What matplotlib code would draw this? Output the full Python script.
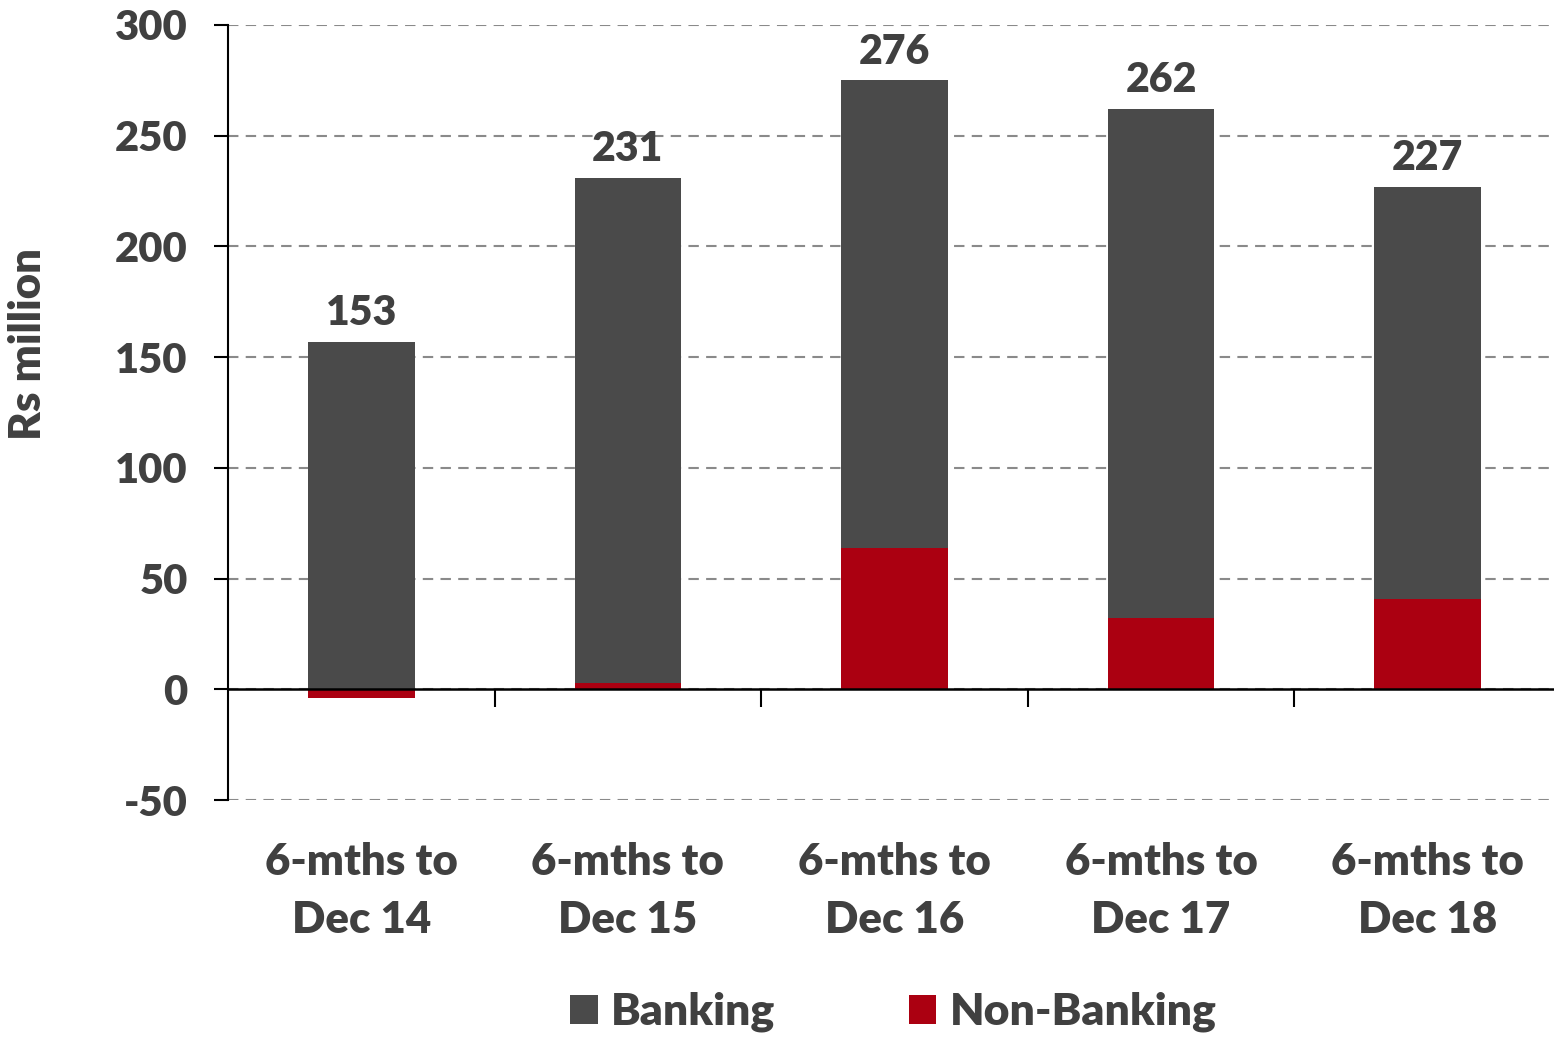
import matplotlib.pyplot as plt
import numpy as np

categories = ['6-mths to\nDec 14', '6-mths to\nDec 15', '6-mths to\nDec 16',
              '6-mths to\nDec 17', '6-mths to\nDec 18']
banking = [157, 228, 211, 230, 186]
non_banking = [-4, 3, 64, 32, 41]
totals = [153, 231, 276, 262, 227]
yticks = [-50, 0, 50, 100, 150, 200, 250, 300]

txt_color = '#404040'
wt = 'heavy'
plt.rcParams['font.family'] = ['Lato', 'DejaVu Sans']
plt.rcParams['font.weight'] = wt

fig = plt.figure(figsize=(15.54, 10.37), dpi=100)
ax = fig.add_axes([228 / 1554, 237 / 1037, 1333 / 1554, 775 / 1037])

x = np.arange(len(categories))
nb = np.array(non_banking)
bk = np.array(banking)
# banking sits on top of positive non-banking, on zero where non-banking is negative
bk_bottom = np.where(nb > 0, nb, 0)
ax.bar(x, nb, width=0.4, color='#ab0011', label='Non-Banking', zorder=3)
ax.bar(x, bk, bottom=bk_bottom, width=0.4, color='#4a4a4a', label='Banking', zorder=3)

for xi, top, t in zip(x, bk + bk_bottom, totals):
    ax.annotate(str(t), (xi, top), xytext=(0, 7), textcoords='offset points',
                ha='center', va='bottom', fontsize=29.5, fontweight=wt, color=txt_color)

ax.set_xlim(-0.5, 4.5)
ax.set_ylim(-50, 300)
ax.set_yticks(yticks)
ax.set_yticklabels([str(v) for v in yticks], fontsize=30, fontweight=wt, color=txt_color)
ax.tick_params(axis='y', length=10, width=1.5, pad=19)
ax.yaxis.grid(True, linestyle=(0, (5, 3.5)), color='#8a8a8a', linewidth=1.5)
ax.set_axisbelow(True)

ax.spines['top'].set_visible(False)
ax.spines['right'].set_visible(False)
ax.spines['left'].set_linewidth(1.5)
ax.spines['bottom'].set_position(('data', 0))
ax.spines['bottom'].set_linewidth(1.8)
ax.spines['bottom'].set_zorder(4)
ax.set_xticks(x[:-1] + 0.5)
ax.set_xticklabels([])
ax.tick_params(axis='x', length=13, width=1.5, direction='out')

for xi, lab in zip(x, categories):
    ax.text(xi, -0.117, lab, transform=ax.get_xaxis_transform(), ha='center', va='center',
            fontsize=31.5, fontweight=wt, color=txt_color, linespacing=1.55)

ax.set_ylabel('Rs million', fontsize=31.5, fontweight=wt, color=txt_color)
ax.yaxis.set_label_coords(-0.135, 0.588)

handles, labels = ax.get_legend_handles_labels()
fig.legend(handles[::-1], labels[::-1], loc='center', bbox_to_anchor=(0.575, 0.024), ncol=2,
           frameon=False, prop={'size': 32, 'weight': wt}, handlelength=0.62, handleheight=0.62,
           handletextpad=0.3, columnspacing=3.0, labelcolor=txt_color)

plt.savefig('out.png', dpi=100)
